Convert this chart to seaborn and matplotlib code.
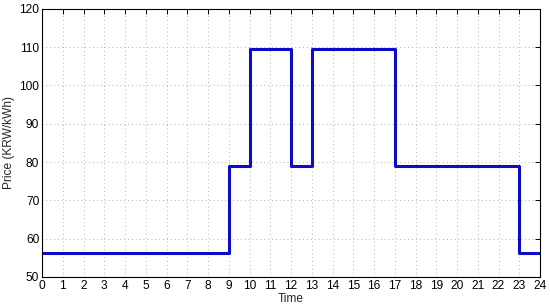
import pandas as pd
import matplotlib
matplotlib.use("Agg")
import matplotlib.pyplot as plt
import seaborn as sns

# step breakpoints (hour) and price that holds from that hour on
hours = [0, 9, 10, 12, 13, 17, 23, 24]
prices = [56.2, 78.9, 109.4, 78.9, 109.4, 78.9, 56.2, 56.2]

df = pd.DataFrame({"Time": hours, "Price": prices})

sns.set_style("white")
plt.rcParams["font.family"] = ["Liberation Sans", "DejaVu Sans"]

fig = plt.figure(figsize=(5.5, 3.06), dpi=100)
ax = fig.add_axes([0.0764, 0.095, 0.9055, 0.876])

sns.lineplot(data=df, x="Time", y="Price", drawstyle="steps-post",
             color="#0c0cc8", linewidth=2.2, ax=ax)

ax.set_xlim(0, 24)
ax.set_ylim(50, 120)
ax.set_xticks(range(0, 25))
ax.set_yticks(range(50, 121, 10))
ax.grid(True, linestyle=(0, (1, 3)), color="#b4b4b4", linewidth=0.7)
ax.tick_params(direction="in", top=True, right=True, length=3.5, width=0.7,
               labelsize=8.6, pad=2, colors="black")
for s in ax.spines.values():
    s.set_color("black")
    s.set_linewidth(0.8)
ax.set_xlabel("Time", fontsize=8.6, labelpad=1)
ax.set_ylabel("Price (KRW/kWh)", fontsize=8.6, labelpad=3)

fig.savefig("out.png", dpi=100)
